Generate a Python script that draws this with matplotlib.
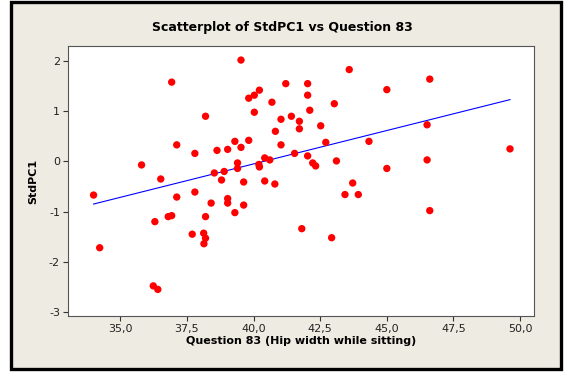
import numpy as np
import matplotlib.pyplot as plt
from matplotlib.patches import Rectangle

# Question 83 (hip width while sitting) vs StdPC1
hip_width = [36.93, 38.20, 37.12, 37.80, 38.63, 39.03, 39.30, 35.80, 36.52, 38.53,
             38.90, 38.80, 39.40, 39.40, 39.53, 43.59, 41.21, 42.03, 45.00, 40.22,
             40.03, 39.82, 42.03, 40.69, 43.03, 40.03, 42.11, 41.03, 41.42, 41.72,
             41.72, 40.82, 42.52, 39.82, 39.53, 42.71, 44.33, 41.03, 41.54, 40.42,
             40.61, 40.20, 40.22, 42.03, 42.22, 42.33, 43.11, 45.00, 46.61, 46.51,
             46.51, 49.62, 34.00, 37.12, 37.80, 38.41, 39.03, 39.03, 39.30, 36.30,
             36.80, 36.93, 38.20, 37.70, 38.13, 38.20, 38.14, 34.23, 36.24, 36.41,
             39.63, 40.42, 40.80, 39.63, 43.72, 43.43, 43.93, 41.81, 42.93, 46.61]
std_pc1 = [1.58, 0.90, 0.33, 0.16, 0.22, 0.24, 0.40, -0.07, -0.35, -0.23,
           -0.20, -0.37, -0.03, -0.14, 2.02, 1.83, 1.55, 1.55, 1.43, 1.42,
           1.32, 1.26, 1.32, 1.18, 1.15, 0.98, 1.02, 0.84, 0.90, 0.80,
           0.65, 0.60, 0.71, 0.42, 0.28, 0.38, 0.40, 0.33, 0.16, 0.07,
           0.03, -0.06, -0.11, 0.11, -0.03, -0.09, 0.01, -0.14, 1.64, 0.73,
           0.03, 0.25, -0.67, -0.71, -0.61, -0.83, -0.74, -0.83, -1.02, -1.20,
           -1.10, -1.08, -1.10, -1.45, -1.43, -1.53, -1.64, -1.72, -2.48, -2.55,
           -0.41, -0.39, -0.45, -0.87, -0.43, -0.66, -0.66, -1.34, -1.52, -0.98]

# fitted line as drawn (slope, intercept)
fit_slope = 0.1332
fit_intercept = -5.378

x_ticks = [35.0, 37.5, 40.0, 42.5, 45.0, 47.5, 50.0]
y_ticks = [-3, -2, -1, 0, 1, 2]

beige = '#EEEBE2'
plt.rcParams['font.family'] = 'DejaVu Sans'

fig = plt.figure(figsize=(5.64, 3.73), dpi=100, facecolor='white')
frame = Rectangle((11 / 564, 4.5 / 373), 550 / 564, 367 / 373,
                  transform=fig.transFigure, facecolor=beige,
                  edgecolor='black', linewidth=2.4, zorder=-10)
fig.patches.append(frame)

ax = fig.add_axes([67.7 / 564, 1 - 316 / 373, 466.3 / 564, 270 / 373])
ax.set_facecolor('white')

ax.scatter(hip_width, std_pc1, s=28, color='red', edgecolors='none', zorder=3)

xl = np.array([min(hip_width), max(hip_width)])
ax.plot(xl, fit_slope * xl + fit_intercept, color='blue', linewidth=0.8, zorder=2)

ax.set_xlim(33.03, 50.52)
ax.set_ylim(-3.08, 2.30)
ax.set_xticks(x_ticks)
ax.set_xticklabels([('%.1f' % v).replace('.', ',') for v in x_ticks])
ax.set_yticks(y_ticks)
ax.set_yticklabels([str(v) for v in y_ticks])

for sp in ax.spines.values():
    sp.set_color('#555555')
    sp.set_linewidth(0.8)
ax.tick_params(direction='out', length=3.5, width=0.8, color='#333333',
               labelsize=8, labelcolor='#222222', pad=2)

ax.set_xlabel('Question 83 (Hip width while sitting)', fontsize=8, fontweight='bold', labelpad=2)
ax.set_ylabel('StdPC1', fontsize=8, fontweight='bold', labelpad=8)
fig.text(0.5, 1 - 28 / 373, 'Scatterplot of StdPC1 vs Question 83',
         ha='center', va='center', fontsize=9, fontweight='bold')

fig.savefig('out.png', dpi=100, facecolor=fig.get_facecolor())
